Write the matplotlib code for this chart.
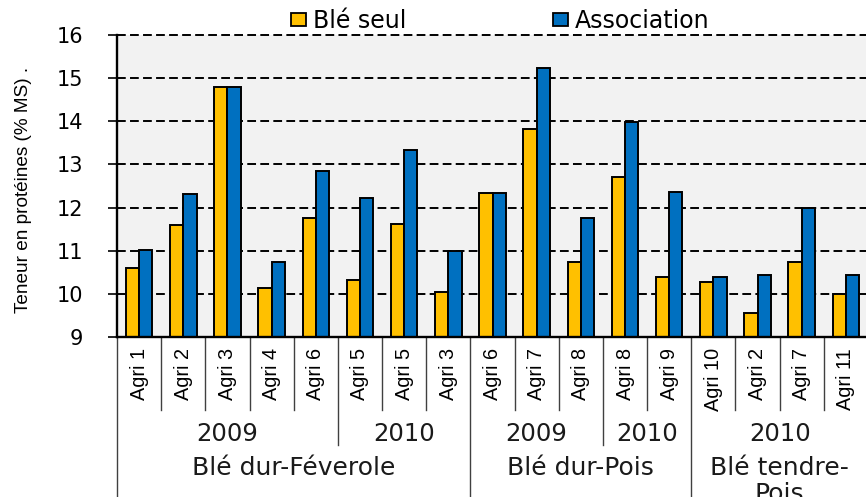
import matplotlib
matplotlib.use("Agg")
import matplotlib.pyplot as plt
from matplotlib.patches import Patch

categories = ['Agri 1', 'Agri 2', 'Agri 3', 'Agri 4', 'Agri 6', 'Agri 5', 'Agri 5', 'Agri 3',
              'Agri 6', 'Agri 7', 'Agri 8', 'Agri 8', 'Agri 9',
              'Agri 10', 'Agri 2', 'Agri 7', 'Agri 11']
ble_seul = [10.61, 11.59, 14.79, 10.13, 11.75, 10.31, 11.62, 10.05,
            12.34, 13.83, 10.73, 12.70, 10.39,
            10.27, 9.55, 10.74, 10.00]
association = [11.02, 12.32, 14.79, 10.73, 12.84, 12.22, 13.34, 11.00,
               12.34, 15.24, 11.75, 13.98, 12.36,
               10.39, 10.44, 12.00, 10.44]
year_labels = ['2009', '2010', '2009', '2010', '2010']
year_counts = [5, 3, 3, 2, 4]
group_labels = ['Blé dur-Féverole', 'Blé dur-Pois', 'Blé tendre-\nPois']
group_counts = [8, 5, 4]
series_names = ['Blé seul', 'Association']
yticks = [9, 10, 11, 12, 13, 14, 15, 16]

C_YEL = '#FFC000'
C_BLU = '#0070C0'
HFONT = 'DejaVu Sans'
VFONT = 'Liberation Sans'

W, H = 866, 497
fig = plt.figure(figsize=(W / 100, H / 100), dpi=100)
ax = fig.add_axes([117 / W, 1 - 337 / H, (868 - 117) / W, (337 - 35) / H])
ax.set_facecolor('#F2F2F2')

n = len(categories)
x = list(range(n))
bw = 0.3
ax.bar([i - bw / 2 for i in x], ble_seul, width=bw, color=C_YEL, edgecolor='black',
       linewidth=1.4, zorder=3, label=series_names[0])
ax.bar([i + bw / 2 for i in x], association, width=bw, color=C_BLU, edgecolor='black',
       linewidth=1.4, zorder=3, label=series_names[1])

ax.set_xlim(-0.5, n - 0.5)
ax.set_ylim(9, 16)
ax.set_yticks(yticks)
ax.set_yticklabels([str(t) for t in yticks], fontfamily=HFONT, fontsize=15)
ax.tick_params(axis='y', direction='out', length=6.5, width=1.2, pad=18, colors='black')
ax.set_xticks([])
for yv in yticks:
    ax.axhline(yv, color='black', linewidth=1.4, linestyle=(0, (4.5, 2.2)), zorder=1, clip_on=False)

for s in ['top', 'right']:
    ax.spines[s].set_visible(False)
ax.spines['left'].set_linewidth(1.7)
ax.spines['bottom'].set_linewidth(1.7)
ax.spines['left'].set_zorder(4)
ax.spines['bottom'].set_zorder(4)

tr = ax.get_xaxis_transform()
ah = 337 - 35
def frac(py):
    return -(py - 337) / ah

# category labels
for i, lab in enumerate(categories):
    ax.text(i, frac(348), lab, transform=tr, rotation=90, ha='center', va='top',
            fontfamily=VFONT, fontsize=14.3, color='black')

# separators
year_bounds = []
acc = 0
for c in year_counts:
    acc += c
    year_bounds.append(acc)
group_bounds = []
acc = 0
for c in group_counts:
    acc += c
    group_bounds.append(acc)

for b in range(0, n):
    if b == 0 or b in group_bounds:
        yb = frac(497)
    elif b in year_bounds:
        yb = frac(445)
    else:
        yb = frac(410)
    ax.plot([b - 0.5, b - 0.5], [0, yb], transform=tr, color='#404040', linewidth=1.0,
            clip_on=False, zorder=2)

# year labels
start = 0
for lab, c in zip(year_labels, year_counts):
    center = start + c / 2 - 0.5
    ax.text(center, frac(441), lab, transform=tr, ha='center', va='baseline',
            fontfamily=HFONT, fontsize=17.5, color='#1a1a1a')
    start += c

# group labels
start = 0
for lab, c in zip(group_labels, group_counts):
    center = start + c / 2 - 0.5
    ax.text(center, frac(456), lab, transform=tr, ha='center', va='top',
            fontfamily=HFONT, fontsize=18, color='#1a1a1a', linespacing=1.1)
    start += c

# y label
fig.text(24 / W, 1 - 190 / H, 'Teneur en protéines (% MS) .', rotation=90,
         ha='center', va='center', fontfamily=VFONT, fontsize=13.7, color='black')

# legend
handles = [Patch(facecolor=C_YEL, edgecolor='black', linewidth=1.3),
           Patch(facecolor=C_BLU, edgecolor='black', linewidth=1.3)]
fig.legend(handles, series_names, loc='center left', bbox_to_anchor=(291 / W, 1 - 21 / H),
           ncol=2, frameon=False, prop={'family': HFONT, 'size': 17},
           handlelength=0.64, handleheight=0.42, handletextpad=0.3, columnspacing=6.2,
           borderpad=0, borderaxespad=0)

fig.savefig('out.png', dpi=100)
